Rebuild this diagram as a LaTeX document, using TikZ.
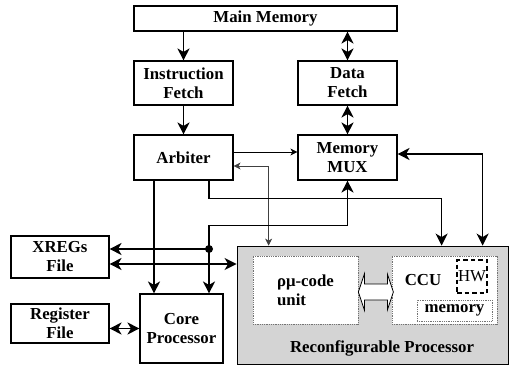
\documentclass[tikz,border=0pt]{standalone}
\usepackage{fontspec}
\setmainfont{Liberation Serif}
\usetikzlibrary{arrows.meta,calc}

\begin{document}
\begin{tikzpicture}[
  x=1pt, y=1pt,
  font=\fontsize{16.8}{19}\selectfont\bfseries,
  block/.style={draw, line width=1.1pt, fill=white, align=center, inner sep=2pt},
  inner/.style={draw=black!55, densely dotted, line width=0.8pt, fill=white, inner sep=0pt},
  conn/.style={line width=1.7pt, -{Stealth[length=12pt, width=12pt, inset=3.5pt]}},
  bidir/.style={line width=1.7pt, {Stealth[length=12pt, width=12pt, inset=3.5pt]}-{Stealth[length=12pt, width=12pt, inset=3.5pt]}},
  thinbidir/.style={line width=0.7pt, draw=black!75, {Stealth[length=7pt, width=7pt, inset=2pt]}-{Stealth[length=7pt, width=7pt, inset=2pt]}},
  thinconn/.style={line width=0.7pt, -{Stealth[length=7pt, width=7pt, inset=2pt]}}
]
\useasboundingbox (0,0) rectangle (511,367);

% upper part
\node[block, minimum width=263, minimum height=25] (mainmem) at (265.5,348.5) {Main Memory};
\node[block, minimum width=99, minimum height=44] (ifetch) at (183.5,284) {Instruction\\Fetch};
\node[block, minimum width=99, minimum height=44] (dfetch) at (347.5,284) {Data\\Fetch};
\node[block, minimum width=99, minimum height=45] (arbiter) at (183.5,209.5) {Arbiter};
\node[block, minimum width=99, minimum height=45] (mux) at (347.5,209.5) {Memory\\MUX};

% left part
\node[block, minimum width=98, minimum height=42] (xregs) at (60,110) {XREGs\\File};
\node[block, minimum width=98, minimum height=39] (regfile) at (60,43.5) {Register\\File};
\node[block, minimum width=83, minimum height=69] (core) at (181.5,38.5) {Core\\Processor};

% reconfigurable processor
\node[draw, line width=0.8pt, fill=black!17, minimum width=271, minimum height=118] (rp) at (372.5,62) {};
\node (rplabel) at (382,19) {Reconfigurable Processor};
\node[inner, minimum width=105, minimum height=68, align=left] (pmu) at (305.5,77) {ρμ-code\\unit};
\node[inner, minimum width=105, minimum height=68] (ccu) at (444.5,77) {};
\node (ccutext) at (423,87) {CCU};
\node[draw, dash pattern=on 4.5pt off 3pt, line width=1.1pt, minimum width=30, minimum height=33, inner sep=0pt,
  font=\fontsize{16.8}{19}\selectfont\mdseries] (hw) at (472,90.5) {HW};
\node[inner, minimum width=75, minimum height=21] (memory) at (454.5,56.5) {memory};

\coordinate (tapA) at ([xshift=32pt]rp.north west);
\coordinate (tapB) at ([xshift=205pt]rp.north west);
\coordinate (tapC) at ([xshift=246pt]rp.north west);
\coordinate (junc) at (209,118);

% connections
\draw[conn] (ifetch.north |- mainmem.south) -- (ifetch.north);
\draw[bidir] (dfetch.north |- mainmem.south) -- (dfetch.north);
\draw[bidir] (dfetch.south) -- (mux.north);
\draw[conn] (ifetch.south) -- (arbiter.north);
\draw[thinconn] ([yshift=5.5pt]arbiter.east) -- ([yshift=5.5pt]arbiter.east -| mux.west);
\draw[thinbidir] ([yshift=-8.5pt]arbiter.east) -| (tapA);
\draw[conn] ([xshift=25.5pt]arbiter.south) -- ++(0,-18) -| (tapB);
\draw[bidir] ([yshift=3.5pt]mux.east) -| (tapC);
\draw[bidir] ([xshift=27.5pt]core.north) -- ++(0,68) -| (mux.south);
\fill (junc) circle (4pt);
\draw[conn] (junc) -- (junc -| xregs.east);
\draw[bidir] ([yshift=-7pt]xregs.east) -- ([yshift=-7pt]xregs.east -| rp.west);
\draw[conn] ([xshift=-29.5pt]arbiter.south) -- ([xshift=-29.5pt]arbiter.south |- core.north);
\draw[bidir] (core.west) -- (core.west -| regfile.east);

% hollow arrow between the units
\draw[line width=0.8pt, fill=white] ($(pmu.east)+(0,-2)$) -- ++(6,18) -- ++(0,-10) -- ++(23,0) -- ++(0,10)
  -- ++(6,-18) -- ++(-6,-18) -- ++(0,10) -- ++(-23,0) -- ++(0,-10) -- cycle;

\end{tikzpicture}
\end{document}
